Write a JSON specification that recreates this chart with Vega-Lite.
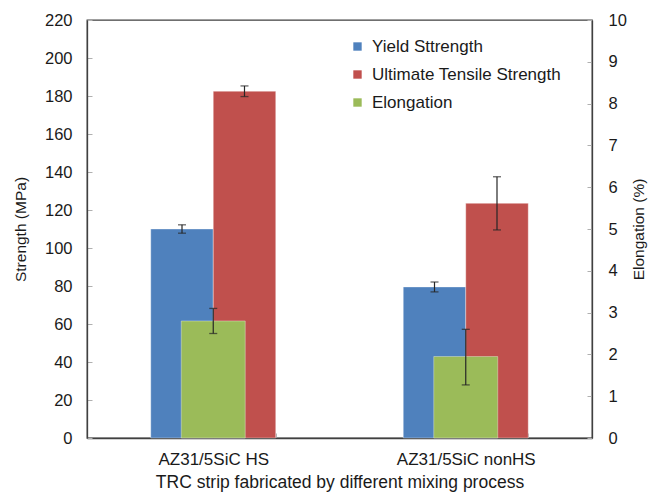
{
  "$schema": "https://vega.github.io/schema/vega-lite/v6.json",
  "width": 505,
  "height": 418,
  "autosize": {"type": "none"},
  "padding": {"left": 87, "top": 20, "right": 68, "bottom": 60},
  "background": "white",
  "config": {
    "font": "Liberation Sans",
    "view": {"stroke": "#404040", "strokeWidth": 1.3},
    "axis": {
      "labelFont": "Liberation Sans",
      "titleFont": "Liberation Sans",
      "labelColor": "#1a1a1a",
      "titleColor": "#1a1a1a",
      "titleFontWeight": "normal",
      "labelOverlap": false,
      "grid": false,
      "domainColor": "#404040",
      "domainWidth": 1.3,
      "tickColor": "#b0b0b0",
      "tickSize": -5
    }
  },
  "data": {
    "values": [
      {"process": "AZ31/5SiC HS", "measure": "Yield Sttrength", "value": 110, "lo": 107.8, "hi": 112.2},
      {"process": "AZ31/5SiC HS", "measure": "Ultimate Tensile Strength", "value": 182.5, "lo": 179.7, "hi": 185.3},
      {"process": "AZ31/5SiC HS", "measure": "Elongation", "value": 2.8, "lo": 2.5, "hi": 3.1},
      {"process": "AZ31/5SiC nonHS", "measure": "Yield Sttrength", "value": 79.5, "lo": 76.9, "hi": 82.1},
      {"process": "AZ31/5SiC nonHS", "measure": "Ultimate Tensile Strength", "value": 123.5, "lo": 109.5, "hi": 137.5},
      {"process": "AZ31/5SiC nonHS", "measure": "Elongation", "value": 1.95, "lo": 1.27, "hi": 2.6}
    ]
  },
  "encoding": {
    "x": {
      "field": "process",
      "type": "nominal",
      "sort": null,
      "scale": {"paddingInner": 0.505, "paddingOuter": 0.2525},
      "axis": {
        "title": "TRC strip fabricated by different mixing process",
        "labelAngle": 0,
        "labelFontSize": 17,
        "titleFontSize": 17.5,
        "labelPadding": 18,
        "titlePadding": 6,
        "tickBand": "extent"
      }
    }
  },
  "layer": [
    {
      "transform": [{"filter": "datum.measure !== 'Elongation'"}],
      "encoding": {
        "xOffset": {
          "field": "measure",
          "type": "nominal",
          "sort": ["Yield Sttrength", "Ultimate Tensile Strength"],
          "scale": {"paddingInner": 0, "paddingOuter": 0}
        }
      },
      "layer": [
        {
          "mark": {"type": "bar", "stroke": "#ffffff", "strokeOpacity": 0.35, "strokeWidth": 1},
          "encoding": {
            "y": {
              "field": "value",
              "type": "quantitative",
              "title": "Strength (MPa)",
              "scale": {"domain": [0, 220]},
              "axis": {
                "values": [0, 20, 40, 60, 80, 100, 120, 140, 160, 180, 200, 220],
                "labelOverlap": false,
                "labelFontSize": 16.5,
                "titleFontSize": 15.5,
                "labelPadding": 20,
                "titlePadding": 16
              }
            },
            "color": {
              "field": "measure",
              "type": "nominal",
              "scale": {
                "domain": ["Yield Sttrength", "Ultimate Tensile Strength", "Elongation"],
                "range": ["#4F81BD", "#C0504D", "#9BBB59"]
              },
              "legend": {
                "title": null,
                "orient": "none",
                "legendX": 262,
                "legendY": 18,
                "symbolType": "square",
                "symbolSize": 70,
                "symbolStrokeWidth": 0,
                "labelFont": "Liberation Sans",
                "labelFontSize": 17,
                "labelColor": "#1a1a1a",
                "labelLimit": 400,
                "labelOffset": 6,
                "rowPadding": 10
              }
            }
          }
        },
        {
          "mark": {"type": "rule", "color": "#262626", "strokeWidth": 1.2},
          "encoding": {
            "y": {
              "field": "lo",
              "type": "quantitative",
              "title": "Strength (MPa)",
              "axis": {
                "values": [0, 20, 40, 60, 80, 100, 120, 140, 160, 180, 200, 220],
                "labelOverlap": false,
                "labelFontSize": 16.5,
                "titleFontSize": 15.5,
                "labelPadding": 20,
                "titlePadding": 16
              }
            },
            "y2": {"field": "hi"}
          }
        },
        {
          "mark": {"type": "tick", "color": "#262626", "size": 8, "thickness": 1.3},
          "encoding": {
            "y": {
              "field": "lo",
              "type": "quantitative",
              "title": "Strength (MPa)",
              "axis": {
                "values": [0, 20, 40, 60, 80, 100, 120, 140, 160, 180, 200, 220],
                "labelOverlap": false,
                "labelFontSize": 16.5,
                "titleFontSize": 15.5,
                "labelPadding": 20,
                "titlePadding": 16
              }
            }
          }
        },
        {
          "mark": {"type": "tick", "color": "#262626", "size": 8, "thickness": 1.3},
          "encoding": {
            "y": {
              "field": "hi",
              "type": "quantitative",
              "title": "Strength (MPa)",
              "axis": {
                "values": [0, 20, 40, 60, 80, 100, 120, 140, 160, 180, 200, 220],
                "labelOverlap": false,
                "labelFontSize": 16.5,
                "titleFontSize": 15.5,
                "labelPadding": 20,
                "titlePadding": 16
              }
            }
          }
        }
      ]
    },
    {
      "transform": [{"filter": "datum.measure === 'Elongation'"}],
      "layer": [
        {
          "mark": {"type": "bar", "width": {"band": 0.512}, "stroke": "#ffffff", "strokeOpacity": 0.35, "strokeWidth": 1},
          "encoding": {
            "y": {
              "field": "value",
              "type": "quantitative",
              "title": "Elongation (%)",
              "scale": {"domain": [0, 10]},
              "axis": {
                "orient": "right",
                "values": [0, 1, 2, 3, 4, 5, 6, 7, 8, 9, 10],
                "labelFontSize": 16.5,
                "titleFontSize": 15.5,
                "titleAngle": 270,
                "labelPadding": 21,
                "titlePadding": 20
              }
            },
            "color": {"field": "measure", "type": "nominal"}
          }
        },
        {
          "mark": {"type": "rule", "color": "#262626", "strokeWidth": 1.2},
          "encoding": {
            "y": {"field": "lo", "type": "quantitative", "title": "Elongation (%)"},
            "y2": {"field": "hi"}
          }
        },
        {
          "mark": {"type": "tick", "color": "#262626", "size": 8, "thickness": 1.3},
          "encoding": {"y": {"field": "lo", "type": "quantitative", "title": "Elongation (%)"}}
        },
        {
          "mark": {"type": "tick", "color": "#262626", "size": 8, "thickness": 1.3},
          "encoding": {"y": {"field": "hi", "type": "quantitative", "title": "Elongation (%)"}}
        }
      ]
    }
  ],
  "resolve": {"scale": {"y": "independent"}}
}
